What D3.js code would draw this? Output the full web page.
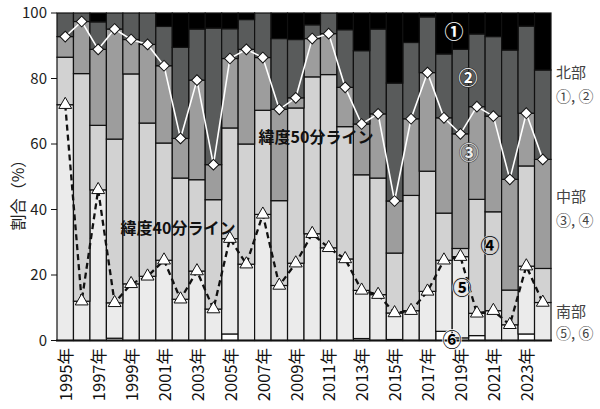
<!DOCTYPE html>
<html>
<head>
<meta charset="utf-8">
<script src="https://cdn.jsdelivr.net/npm/d3@7"></script>
<style>
  body { margin: 0; background: #fff; }
  svg text { font-family: "Noto Sans CJK JP", "Noto Sans", sans-serif; }
</style>
</head>
<body>
<svg id="chart"></svg>
<script>
// years on the x axis
const years = [1995, 1996, 1997, 1998, 1999, 2000, 2001, 2002, 2003, 2004,
               2005, 2006, 2007, 2008, 2009, 2010, 2011, 2012, 2013, 2014,
               2015, 2016, 2017, 2018, 2019, 2020, 2021, 2022, 2023, 2024];

// share (%) of each area
const area6 = [0, 0, 0, 0.7, 0, 0, 0, 0, 0, 0,
               2.0, 0, 0, 0, 0, 0, 0, 0, 0.6, 0,
               0.3, 0, 0, 2.8, 0.8, 1.5, 0, 0, 2.0, 0];
const area5 = [72.0, 12.0, 46.0, 10.8, 17.3, 19.6, 24.5, 12.6, 21.2, 9.6,
               29.1, 23.3, 38.5, 16.8, 23.6, 32.6, 28.3, 24.9, 14.7, 14.0,
               8.1, 9.1, 15.0, 21.7, 24.8, 6.8, 9.1, 4.8, 20.7, 11.6];
const area4 = [14.5, 69.5, 19.7, 50.0, 64.1, 46.8, 35.8, 37.0, 27.9, 33.4,
               33.8, 36.7, 31.8, 25.9, 47.4, 47.9, 52.9, 40.4, 35.3, 35.6,
               18.3, 35.2, 36.7, 14.4, 2.5, 34.8, 30.2, 10.6, 30.6, 10.4];
const area3 = [6.3, 15.9, 23.2, 33.6, 10.5, 24.0, 23.6, 12.1, 30.4, 10.7,
               21.2, 28.9, 16.1, 27.9, 3.1, 11.7, 12.5, 12.0, 15.5, 19.6,
               15.9, 23.4, 30.1, 29.1, 35.0, 28.3, 29.2, 33.8, 16.1, 33.3];
const area2 = [7.2, 2.6, 8.4, 4.9, 8.1, 9.6, 12.0, 27.8, 15.6, 41.7,
               9.1, 9.1, 13.6, 21.6, 17.8, 4.2, 6.3, 17.6, 22.4, 25.9,
               36.0, 23.3, 17.0, 19.5, 25.8, 22.2, 24.3, 39.5, 26.6, 27.3];
const area1 = [0, 0, 2.7, 0, 0, 0, 4.1, 10.5, 4.9, 4.6,
               4.8, 2.0, 0, 7.8, 8.1, 3.6, 0, 5.1, 11.5, 4.9,
               21.4, 9.0, 1.2, 12.5, 11.1, 6.4, 7.2, 11.3, 4.0, 17.4];

const tickYears = ["1995", "1997", "1999", "2001", "2003", "2005", "2007", "2009",
                   "2011", "2013", "2015", "2017", "2019", "2021", "2023"];
const yTicks = [0, 20, 40, 60, 80, 100];

const keys = ["a6", "a5", "a4", "a3", "a2", "a1"];
const fills = { a6: "#ffffff", a5: "#ebebeb", a4: "#d2d2d2", a3: "#9d9d9d", a2: "#595b5b", a1: "#000000" };

const table = years.map((y, i) => ({
  year: String(y),
  a6: area6[i], a5: area5[i], a4: area4[i], a3: area3[i], a2: area2[i], a1: area1[i]
}));

const W = 600, H = 409;
const svg = d3.select("#chart").attr("width", W).attr("height", H);
svg.append("rect").attr("width", W).attr("height", H).attr("fill", "#fff");

const x = d3.scaleBand().domain(table.map(d => d.year)).range([57, 551]).padding(0);
const y = d3.scaleLinear().domain([0, 100]).range([340.5, 13]);

const stacked = d3.stack().keys(keys)(table);

// bars
svg.append("g").selectAll("g")
  .data(stacked)
  .join("g")
  .attr("fill", d => fills[d.key])
  .selectAll("rect")
  .data(d => d)
  .join("rect")
  .attr("x", d => x(d.data.year))
  .attr("width", x.bandwidth())
  .attr("y", d => y(d[1]))
  .attr("height", d => Math.max(0, y(d[0]) - y(d[1])))
  .attr("stroke", "#111")
  .attr("stroke-width", 1.2);

// latitude lines: top of area5 (40') and top of area3 (50')
const line40 = stacked[1].map(d => ({ year: d.data.year, v: d[1] }));
const line50 = stacked[3].map(d => ({ year: d.data.year, v: d[1] }));
const cx = d => x(d.year) + x.bandwidth() / 2;

const lineGen = d3.line().x(cx).y(d => y(d.v));

svg.append("path").datum(line50)
  .attr("d", lineGen).attr("fill", "none")
  .attr("stroke", "#fff").attr("stroke-width", 1.6);

svg.append("g").selectAll("path")
  .data(line50).join("path")
  .attr("d", d3.symbol(d3.symbolSquare, 58)())
  .attr("transform", d => `translate(${cx(d)},${y(d.v)}) rotate(45)`)
  .attr("fill", "#fff").attr("stroke", "#111").attr("stroke-width", 1);

svg.append("path").datum(line40)
  .attr("d", lineGen).attr("fill", "none")
  .attr("stroke", "#111").attr("stroke-width", 2.3)
  .attr("stroke-dasharray", "6,4");

svg.append("g").selectAll("path")
  .data(line40).join("path")
  .attr("d", d3.symbol(d3.symbolTriangle, 72)())
  .attr("transform", d => `translate(${cx(d)},${y(d.v)})`)
  .attr("fill", "#fff").attr("stroke", "#111").attr("stroke-width", 1);

// x axis line
svg.append("line")
  .attr("x1", 56).attr("x2", 552)
  .attr("y1", y(0)).attr("y2", y(0))
  .attr("stroke", "#111").attr("stroke-width", 2);

// y ticks
const yAxis = svg.append("g");
yAxis.selectAll("line").data(yTicks).join("line")
  .attr("x1", 51).attr("x2", 57)
  .attr("y1", d => y(d)).attr("y2", d => y(d))
  .attr("stroke", "#111");
yAxis.selectAll("text").data(yTicks).join("text")
  .attr("x", 47).attr("y", d => y(d))
  .attr("dy", "0.35em").attr("text-anchor", "end")
  .attr("font-size", 15).attr("fill", "#222")
  .text(d => d);

svg.append("text")
  .attr("transform", "translate(18,191) rotate(-90)")
  .attr("text-anchor", "middle").attr("dy", "0.35em")
  .attr("font-size", 16).attr("fill", "#222")
  .text("割合（%）");

// x labels
svg.append("g").selectAll("text")
  .data(tickYears).join("text")
  .attr("transform", d => `translate(${x(d) + x.bandwidth() / 2 + 1},348) rotate(-90)`)
  .attr("text-anchor", "end").attr("dy", "0.35em")
  .attr("font-size", 16.5).attr("fill", "#111")
  .text(d => d + "年");

// right-hand region labels
const sideLabels = [["北部", 73], ["①, ②", 97], ["中部", 197], ["③, ④", 221], ["南部", 312], ["⑤, ⑥", 334]];
svg.append("g").selectAll("text")
  .data(sideLabels).join("text")
  .attr("x", 556).attr("y", d => d[1])
  .attr("dy", "0.35em").attr("font-size", 15).attr("fill", "#444")
  .text(d => d[0]);

// circled numbers inside the plot
const marks = [["①", 454, 32, "#fff", "#000"], ["②", 468, 78, "#fff", "#333"], ["③", 469, 153, "#eee", "#555"],
               ["④", 490, 246, "#000", "#ccc"], ["⑤", 462, 288, "#000", "#ddd"], ["⑥", 452, 340, "#000", "#fff"]];
svg.append("g").selectAll("text")
  .data(marks).join("text")
  .attr("x", d => d[1]).attr("y", d => d[2])
  .attr("text-anchor", "middle").attr("dy", "0.35em")
  .attr("font-size", 19).attr("font-weight", "bold")
  .attr("fill", d => d[3]).attr("stroke", d => d[4]).attr("stroke-width", 1.5)
  .attr("paint-order", "stroke")
  .text(d => d[0]);

// line names
svg.append("text").attr("x", 316).attr("y", 137).attr("dy", "0.35em")
  .attr("text-anchor", "middle").attr("font-size", 16).attr("font-weight", "bold")
  .attr("fill", "#111").text("緯度50分ライン");
svg.append("text").attr("x", 178).attr("y", 228).attr("dy", "0.35em")
  .attr("text-anchor", "middle").attr("font-size", 16).attr("font-weight", "bold")
  .attr("fill", "#111").text("緯度40分ライン");
</script>
</body>
</html>
